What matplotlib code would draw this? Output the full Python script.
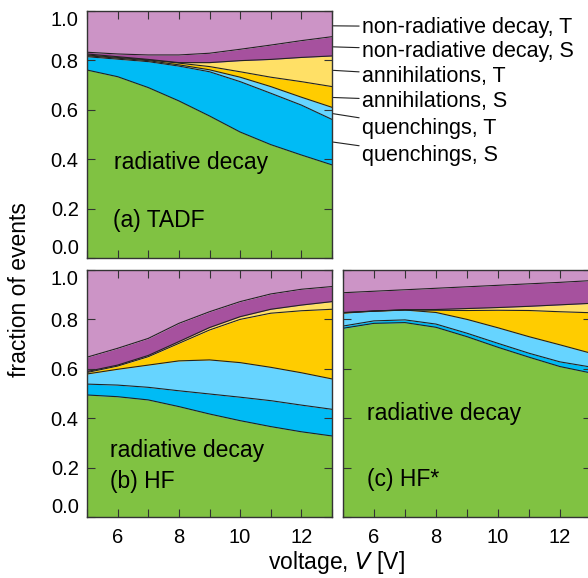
import numpy as np
import matplotlib
matplotlib.use("Agg")
import matplotlib.pyplot as plt

plt.rcParams['font.family'] = ['Liberation Sans', 'DejaVu Sans']

# voltage grid (V)
voltage = [5, 6, 7, 8, 9, 10, 11, 12, 13]

# cumulative upper edges of each band, bottom to top
# (a) TADF
tadf_rad = [0.761, 0.734, 0.690, 0.636, 0.575, 0.510, 0.459, 0.417, 0.377]
tadf_qS = [0.815, 0.805, 0.795, 0.777, 0.754, 0.714, 0.667, 0.619, 0.561]
tadf_qT = [0.819, 0.809, 0.799, 0.782, 0.762, 0.732, 0.694, 0.651, 0.610]
tadf_aS = [0.822, 0.812, 0.802, 0.789, 0.775, 0.754, 0.732, 0.714, 0.694]
tadf_aT = [0.826, 0.815, 0.804, 0.791, 0.791, 0.799, 0.804, 0.812, 0.818]
tadf_nS = [0.833, 0.826, 0.822, 0.822, 0.829, 0.845, 0.862, 0.880, 0.896]

# (b) HF
hf_rad = [0.494, 0.487, 0.474, 0.447, 0.417, 0.390, 0.366, 0.345, 0.328]
hf_qS = [0.538, 0.534, 0.525, 0.511, 0.498, 0.485, 0.471, 0.453, 0.436]
hf_qT = [0.579, 0.598, 0.615, 0.632, 0.636, 0.625, 0.606, 0.584, 0.559]
hf_aS = [0.585, 0.611, 0.649, 0.703, 0.757, 0.800, 0.825, 0.835, 0.841]
hf_aT = [0.589, 0.615, 0.654, 0.710, 0.767, 0.811, 0.841, 0.858, 0.872]
hf_nS = [0.647, 0.683, 0.723, 0.784, 0.831, 0.872, 0.903, 0.922, 0.933]

# (c) HF*
hfs_rad = [0.764, 0.784, 0.787, 0.768, 0.730, 0.687, 0.647, 0.609, 0.583]
hfs_qS = [0.773, 0.794, 0.798, 0.781, 0.744, 0.703, 0.663, 0.628, 0.607]
hfs_qT = [0.825, 0.834, 0.838, 0.828, 0.800, 0.766, 0.730, 0.697, 0.663]
hfs_aS = [0.827, 0.833, 0.838, 0.837, 0.836, 0.837, 0.836, 0.831, 0.827]
hfs_aT = [0.828, 0.834, 0.839, 0.840, 0.844, 0.848, 0.853, 0.859, 0.865]
hfs_nS = [0.908, 0.914, 0.920, 0.926, 0.932, 0.938, 0.944, 0.950, 0.957]

band_colors = ['#80c242', '#00bbf5', '#66d4ff', '#ffcc00', '#ffe066',
               '#a6519e', '#cc94c6']

legend_labels = ['non-radiative decay, T', 'non-radiative decay, S',
                 'annihilations, T', 'annihilations, S',
                 'quenchings, T', 'quenchings, S']
legend_anchor = [0.94, 0.855, 0.76, 0.65, 0.585, 0.47]


def draw_panel(ax, edges, tag, rad_pos, tag_pos):
    x = np.array(voltage, dtype=float)
    lower = np.zeros_like(x)
    tops = [np.array(e) for e in edges] + [np.ones_like(x)]
    for top, c in zip(tops, band_colors):
        ax.fill_between(x, lower, top, color=c, lw=0)
        lower = top
    for top in tops[:-1]:
        ax.plot(x, top, color='#222222', lw=0.8)
    ax.set_xlim(5, 13)
    ax.set_ylim(0, 1)
    ax.set_xticks([6, 8, 10, 12])
    ax.set_xticks([5, 7, 9, 11, 13], minor=True)
    ax.set_yticks([0, 0.2, 0.4, 0.6, 0.8, 1.0])
    ax.tick_params(which='both', direction='in', top=True, right=True,
                   length=6, width=0.8, color='#333333', labelsize=14.5)
    ax.tick_params(axis='x', pad=8)
    ax.tick_params(axis='y', pad=6)
    for s in ax.spines.values():
        s.set_color('#333333')
        s.set_linewidth(1.0)
    ax.text(rad_pos[0], rad_pos[1], 'radiative decay', fontsize=16.5,
            va='center', ha='left')
    ax.text(tag_pos[0], tag_pos[1], tag, fontsize=16.5, va='center', ha='left')


def fix_ylabels(ax):
    ax.set_yticklabels(['0.0', '0.2', '0.4', '0.6', '0.8', '1.0'])
    labs = ax.get_yticklabels()
    labs[0].set_va('bottom')
    labs[-1].set_va('top')


fig = plt.figure(figsize=(5.88, 5.78), dpi=100)
W, H = 588, 578
ax_a = fig.add_axes([87 / W, 1 - 258 / H, 245 / W, 247 / H])
ax_b = fig.add_axes([87 / W, 1 - 517 / H, 245 / W, 247 / H])
ax_c = fig.add_axes([343 / W, 1 - 517 / H, 248 / W, 247 / H])

draw_panel(ax_a, [tadf_rad, tadf_qS, tadf_qT, tadf_aS, tadf_aT, tadf_nS],
           '(a) TADF', (5.87, 0.385), (5.85, 0.15))
draw_panel(ax_b, [hf_rad, hf_qS, hf_qT, hf_aS, hf_aT, hf_nS],
           '(b) HF', (5.76, 0.27), (5.74, 0.145))
draw_panel(ax_c, [hfs_rad, hfs_qS, hfs_qT, hfs_aS, hfs_aT, hfs_nS],
           '(c) HF*', (5.78, 0.42), (5.78, 0.15))

ax_a.tick_params(labelbottom=False)
ax_c.tick_params(labelleft=False)
fix_ylabels(ax_a)
fix_ylabels(ax_b)

# labels for the bands, to the right of panel (a)
text_y = [0.935, 0.838, 0.736, 0.635, 0.523, 0.414]
for lab, yv, ty in zip(legend_labels, legend_anchor, text_y):
    ax_a.annotate(lab, xy=(1.0, yv), xycoords='axes fraction',
                  xytext=(1.122, ty), textcoords='axes fraction',
                  fontsize=15.5, va='center', ha='left',
                  annotation_clip=False,
                  arrowprops=dict(arrowstyle='-', color='#222222', lw=0.8,
                                  shrinkA=0, shrinkB=1))

fig.text(20 / W, 1 - 290 / H, 'fraction of events', rotation=90,
         fontsize=16.5, va='center', ha='center')
fig.text(336 / W, 1 - 562 / H, 'voltage, $\\it{V}$ [V]', fontsize=16.5,
         va='center', ha='center')

fig.savefig('out.png', dpi=100)
